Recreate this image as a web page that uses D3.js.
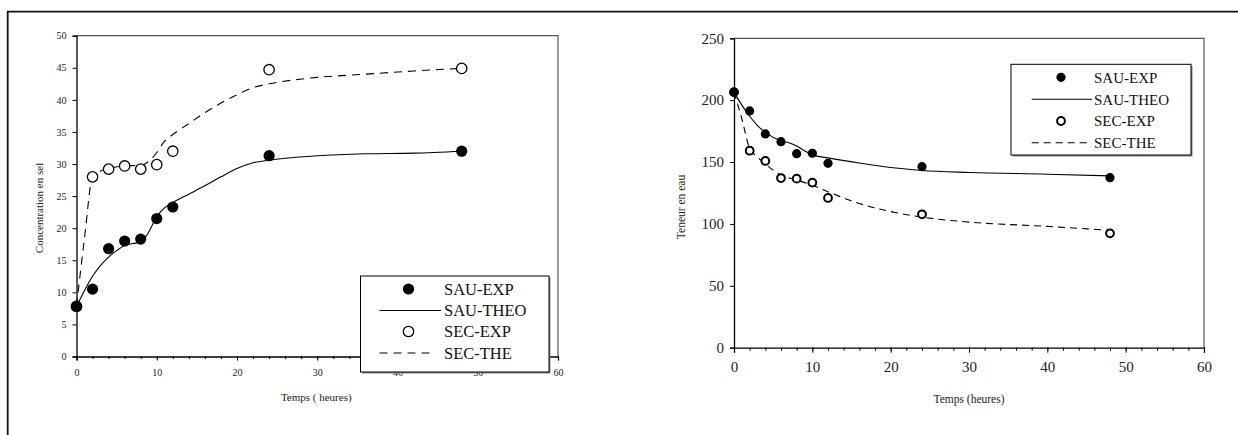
<!DOCTYPE html>
<html><head><meta charset="utf-8">
<script src="https://cdn.jsdelivr.net/npm/d3@7"></script>
<style>
html,body{margin:0;padding:0;background:#fff;}
svg{display:block;}
svg text{font-family:"Liberation Serif","Times New Roman",Times,serif !important;}
</style></head>
<body>
<svg id="c" width="1238" height="435"></svg>
<script>
// ---------- DATA ----------
const expTimes = [0, 2, 4, 6, 8, 10, 12, 24, 48];

// Left chart: Concentration en sel
const saltSauExp = [7.8, 10.5, 16.8, 18.0, 18.3, 21.5, 23.3, 31.3, 32.0];
const saltSecExp = [7.8, 28.0, 29.2, 29.7, 29.2, 29.9, 32.0, 44.7, 44.9];
const saltSauTheoT = [0, 1, 2, 3, 4, 5, 6, 7, 8, 9, 10, 11, 12, 14, 16, 18, 20, 22, 24, 26, 30, 36, 42, 48];
const saltSauTheo  = [7.8, 10.3, 12.5, 14.2, 15.5, 16.5, 17.3, 17.6, 17.8, 19.4, 21.8, 23.2, 24.0, 25.3, 26.6, 28.0, 29.3, 30.2, 30.6, 30.9, 31.3, 31.6, 31.7, 32.0];
const saltSecTheT  = [0, 1, 2, 3, 4, 6, 8, 9, 10, 11, 12, 14, 16, 18, 20, 22, 24, 27, 30, 36, 42, 48];
const saltSecThe   = [7.8, 18.5, 28.0, 28.9, 29.3, 29.7, 29.8, 30.4, 31.8, 33.6, 34.6, 36.3, 38.0, 39.5, 40.8, 41.9, 42.5, 43.1, 43.5, 44.0, 44.5, 44.9];

// Right chart: Teneur en eau
const waterSauExp = [206.5, 191.3, 172.7, 166.5, 156.8, 157.1, 149.0, 146.3, 137.4];
const waterSecExp = [206.5, 159.2, 150.9, 137.1, 136.6, 133.4, 121.0, 107.8, 92.4];
const waterSauTheoT = [0, 1, 2, 3, 4, 6, 7, 8, 9, 10, 12, 16, 20, 24, 30, 40, 48];
const waterSauTheo  = [206.5, 196, 187, 179.5, 174, 167.2, 165.6, 163.0, 159.2, 155.8, 153.4, 149.2, 145.6, 143.2, 141.6, 140.2, 138.8];
const waterSecTheT  = [0, 1, 2, 3, 4, 5, 6, 8, 10, 12, 16, 20, 24, 30, 40, 48];
const waterSecThe   = [206.5, 185, 161, 154, 148.5, 143.5, 139.5, 135.5, 131.2, 126, 116.5, 110, 105.5, 101.5, 98, 94.8];

const legendLabels = ["SAU-EXP", "SAU-THEO", "SEC-EXP", "SEC-THE"];
const xTicks = [0, 10, 20, 30, 40, 50, 60];
const xMinorTicks = d3.range(0, 61, 2);
const leftYTicks = [0, 5, 10, 15, 20, 25, 30, 35, 40, 45, 50];
const rightYTicks = [0, 50, 100, 150, 200, 250];

// ---------- DRAW ----------
const svg = d3.select("#c");
const SERIF = "Liberation Serif, Times New Roman, serif";

// outer frame (top + left edge)
svg.append("path").attr("d", "M7.7,435 L7.7,11.7 L1238,11.7")
  .attr("fill", "none").attr("stroke", "#111").attr("stroke-width", 1.8);

function zip(t, v) { return t.map((d, i) => [d, v[i]]); }

function panel(cfg) {
  const g = svg.append("g").attr("font-family", SERIF);
  const x = d3.scaleLinear().domain([0, 60]).range([cfg.x0, cfg.x1]);
  const y = d3.scaleLinear().domain([0, cfg.yMax]).range([cfg.y0, cfg.y1]);

  // plot frame top/right
  g.append("path").attr("d", `M${cfg.x0},${cfg.y1} L${cfg.x1},${cfg.y1} L${cfg.x1},${cfg.y0}`)
    .attr("fill", "none").attr("stroke", "#555").attr("stroke-width", 1.2);

  // minor x ticks
  const xMinor = d3.axisBottom(x).tickValues(xMinorTicks).tickSize(cfg.minorLen).tickFormat("");
  const gm = g.append("g").attr("transform", `translate(0,${cfg.y0})`).call(xMinor);
  gm.select(".domain").remove();
  gm.selectAll("line").attr("stroke", "#000");

  const xAxis = d3.axisBottom(x).tickValues(xTicks).tickSize(cfg.majorLen).tickPadding(cfg.xPad).tickFormat(d3.format("d"));
  const gx = g.append("g").attr("transform", `translate(0,${cfg.y0})`).call(xAxis).attr("font-family", SERIF);
  gx.select(".domain").attr("stroke", "#000").attr("stroke-width", 1.3);
  gx.selectAll("text").attr("font-size", cfg.tickFont).attr("fill", "#222");

  const yAxis = d3.axisLeft(y).tickValues(cfg.yTicks).tickSize(4).tickPadding(cfg.yPad).tickFormat(d3.format("d"));
  const gy = g.append("g").attr("transform", `translate(${cfg.x0},0)`).call(yAxis).attr("font-family", SERIF);
  gy.select(".domain").attr("stroke", "#000").attr("stroke-width", 1.3);
  gy.selectAll("text").attr("font-size", cfg.tickFont).attr("fill", "#222");

  // axis titles
  g.append("text").attr("x", (cfg.x0 + cfg.x1) / 2 + cfg.xTitleDx).attr("y", cfg.xTitleY)
    .attr("text-anchor", "middle").attr("font-size", cfg.titleFont).attr("fill", "#222").text(cfg.xTitle);
  g.append("text").attr("transform", `translate(${cfg.yTitleX},${cfg.yTitleCy}) rotate(-90)`)
    .attr("text-anchor", "middle").attr("font-size", cfg.titleFont).attr("fill", "#222").text(cfg.yTitle);

  const line = d3.line().x(d => x(d[0])).y(d => y(d[1])).curve(d3.curveMonotoneX);
  g.append("path").attr("d", line(zip(cfg.sauTheoT, cfg.sauTheo)))
    .attr("fill", "none").attr("stroke", "#000").attr("stroke-width", 1.1);
  g.append("path").attr("d", line(zip(cfg.secTheT, cfg.secThe)))
    .attr("fill", "none").attr("stroke", "#000").attr("stroke-width", 1.1).attr("stroke-dasharray", cfg.dash);

  g.append("g").selectAll("circle").data(zip(expTimes, cfg.secExp)).join("circle")
    .attr("cx", d => x(d[0])).attr("cy", d => y(d[1])).attr("r", cfg.openR)
    .attr("fill", "#fff").attr("stroke", "#000").attr("stroke-width", cfg.openW);
  g.append("g").selectAll("circle").data(zip(expTimes, cfg.sauExp)).join("circle")
    .attr("cx", d => x(d[0])).attr("cy", d => y(d[1])).attr("r", cfg.fillR)
    .attr("fill", "#000");

  // legend
  const L = cfg.legend;
  const lg = g.append("g");
  lg.append("rect").attr("x", L.x0 + 1.5).attr("y", L.y0 + 1.5).attr("width", L.x1 - L.x0).attr("height", L.y1 - L.y0)
    .attr("fill", "#888");
  lg.append("rect").attr("x", L.x0).attr("y", L.y0).attr("width", L.x1 - L.x0).attr("height", L.y1 - L.y0)
    .attr("fill", "#fff").attr("stroke", "#000").attr("stroke-width", 1);
  legendLabels.forEach((lab, i) => {
    const cy = L.rows[i];
    if (i === 0) lg.append("circle").attr("cx", L.mx).attr("cy", cy).attr("r", cfg.fillR).attr("fill", "#000");
    if (i === 2) lg.append("circle").attr("cx", L.mx).attr("cy", cy).attr("r", cfg.openR)
      .attr("fill", "#fff").attr("stroke", "#000").attr("stroke-width", cfg.openW);
    if (i === 1) lg.append("line").attr("x1", L.lx0).attr("x2", L.lx1).attr("y1", cy).attr("y2", cy)
      .attr("stroke", "#000").attr("stroke-width", 1.1);
    if (i === 3) lg.append("line").attr("x1", L.lx0).attr("x2", L.lx1d).attr("y1", cy).attr("y2", cy)
      .attr("stroke", "#000").attr("stroke-width", 1.1).attr("stroke-dasharray", cfg.dash);
    lg.append("text").attr("x", L.tx).attr("y", cy).attr("dy", "0.36em")
      .attr("font-size", L.font).attr("fill", "#111").text(lab);
  });
}

panel({
  x0: 76.5, x1: 558, y0: 356.5, y1: 35.7, yMax: 50, yTicks: leftYTicks,
  minorLen: 2.5, majorLen: 4, xPad: 8, yPad: 6, tickFont: 10, titleFont: 11,
  xTitle: "Temps ( heures)", xTitleDx: -1, xTitleY: 401,
  yTitle: "Concentration en sel", yTitleX: 43, yTitleCy: 208,
  sauExp: saltSauExp, secExp: saltSecExp,
  sauTheoT: saltSauTheoT, sauTheo: saltSauTheo, secTheT: saltSecTheT, secThe: saltSecThe,
  dash: "8,6", fillR: 5.6, openR: 5.2, openW: 1.3,
  legend: { x0: 360.5, x1: 549, y0: 276, y1: 372, rows: [289, 310.5, 331.5, 353],
    mx: 408.5, lx0: 379.5, lx1: 441, lx1d: 434, tx: 444, font: 16.5 }
});

panel({
  x0: 734, x1: 1204, y0: 347.7, y1: 38.3, yMax: 250, yTicks: rightYTicks,
  minorLen: 3, majorLen: 5, xPad: 9, yPad: 6, tickFont: 15, titleFont: 11.5,
  xTitle: "Temps (heures)", xTitleDx: 0, xTitleY: 403,
  yTitle: "Teneur en eau", yTitleX: 685, yTitleCy: 207,
  sauExp: waterSauExp, secExp: waterSecExp,
  sauTheoT: waterSauTheoT, sauTheo: waterSauTheo, secTheT: waterSecTheT, secThe: waterSecThe,
  dash: "7,5", fillR: 4.6, openR: 3.9, openW: 2,
  legend: { x0: 1011, x1: 1191, y0: 64.3, y1: 155, rows: [77.3, 99.3, 121, 142.7],
    mx: 1061, lx0: 1031.7, lx1: 1092, lx1d: 1090, tx: 1094, font: 15 }
});
</script>
</body></html>
